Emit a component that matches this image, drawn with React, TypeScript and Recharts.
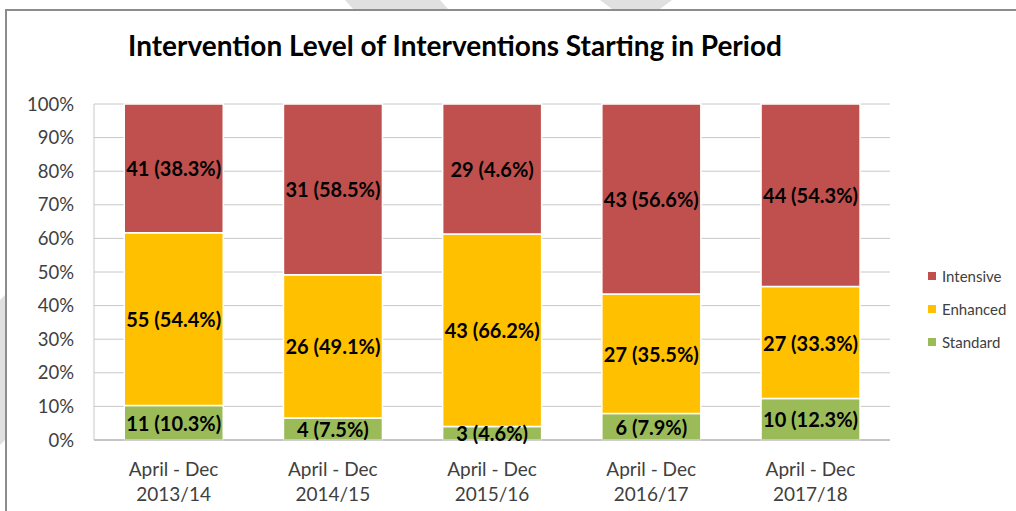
import { BarChart, Bar, XAxis, YAxis, CartesianGrid, LabelList } from 'recharts';

const periods = ['April - Dec\n2013/14', 'April - Dec\n2014/15', 'April - Dec\n2015/16', 'April - Dec\n2016/17', 'April - Dec\n2017/18'];

const standard = [11, 4, 3, 6, 10];
const enhanced = [55, 26, 43, 27, 27];
const intensive = [41, 31, 29, 43, 44];

const standardLabels = ['11 (10.3%)', '4 (7.5%)', '3 (4.6%)', '6 (7.9%)', '10 (12.3%)'];
const enhancedLabels = ['55 (54.4%)', '26 (49.1%)', '43 (66.2%)', '27 (35.5%)', '27 (33.3%)'];
const intensiveLabels = ['41 (38.3%)', '31 (58.5%)', '29 (4.6%)', '43 (56.6%)', '44 (54.3%)'];

const yTicks = [0, 0.1, 0.2, 0.3, 0.4, 0.5, 0.6, 0.7, 0.8, 0.9, 1];

const data = periods.map((period, i) => ({
  period,
  standard: standard[i],
  enhanced: enhanced[i],
  intensive: intensive[i],
  standardLabel: standardLabels[i],
  enhancedLabel: enhancedLabels[i],
  intensiveLabel: intensiveLabels[i],
}));

const legendItems = [
  { name: 'Intensive', color: '#C0504D' },
  { name: 'Enhanced', color: '#FFC000' },
  { name: 'Standard', color: '#9BBB59' },
];

const FONT = 'Lato, "Open Sans", sans-serif';

const PeriodTick = ({ x, y, payload }: any) => {
  const lines = String(payload.value).split('\n');
  return (
    <text x={x} y={y} textAnchor="middle" fill="#404040" fontSize={19} fontFamily={FONT}>
      {lines.map((line, i) => (
        <tspan key={i} x={x} dy={i === 0 ? 28 : 25}>{line}</tspan>
      ))}
    </text>
  );
};

// centred label without wrapping
const SegmentLabel = ({ x, y, width, height, value }: any) => (
  <text
    x={Number(x) + Number(width) / 2}
    y={Number(y) + Number(height) / 2}
    textAnchor="middle"
    dominantBaseline="central"
    fill="#000"
    fontSize={20}
    fontWeight={700}
    fontFamily={FONT}
  >
    {value}
  </text>
);

export default function App() {
  return (
    <div style={{ position: 'absolute', left: 0, top: 0, width: 1016, height: 511, overflow: 'hidden', background: '#fff' }}>
      {/* faint watermark pieces showing outside the chart frame */}
      <svg width={1016} height={511} style={{ position: 'absolute', left: 0, top: 0 }}>
        <polygon points="345,0 440,0 448,9 353,9" fill="#e0e0e0" />
        <polygon points="600,0 672,0 660,9 612,9" fill="#e0e0e0" />
        <polygon points="0,300 5,295 5,440 0,445" fill="#e0e0e0" />
      </svg>
      <div style={{ position: 'absolute', left: 5, top: 9, width: 1030, height: 530, border: '2px solid #8c8c8c', boxSizing: 'border-box' }} />
      <div style={{ position: 'absolute', left: 0, top: 28, width: 910, textAlign: 'center', fontFamily: FONT, fontWeight: 700, fontSize: 28, color: '#000' }}>
        Intervention Level of Interventions Starting in Period
      </div>
      <div style={{ position: 'absolute', left: 0, top: 0 }}>
        <BarChart
          width={1016}
          height={511}
          data={data}
          stackOffset="expand"
          barCategoryGap="19%"
          margin={{ top: 104, right: 126, left: 34, bottom: 11 }}
        >
          <CartesianGrid vertical={false} stroke="#c8c8c8" />
          <XAxis
            dataKey="period"
            tick={<PeriodTick />}
            tickLine={false}
            axisLine={{ stroke: '#a6a6a6' }}
            height={60}
            interval={0}
          />
          <YAxis
            width={60}
            domain={[0, 1]}
            ticks={yTicks}
            tickFormatter={(v) => `${Math.round(Number(v) * 100)}%`}
            tick={{ fill: '#404040', fontSize: 18.5, fontFamily: FONT, dx: -12 }}
            tickLine={false}
            axisLine={{ stroke: '#c8c8c8' }}
          />
          <Bar dataKey="standard" stackId="a" fill="#9BBB59" stroke="#fff" strokeWidth={1.5} isAnimationActive={false}>
            <LabelList dataKey="standardLabel" content={<SegmentLabel />} />
          </Bar>
          <Bar dataKey="enhanced" stackId="a" fill="#FFC000" stroke="#fff" strokeWidth={1.5} isAnimationActive={false}>
            <LabelList dataKey="enhancedLabel" content={<SegmentLabel />} />
          </Bar>
          <Bar dataKey="intensive" stackId="a" fill="#C0504D" stroke="#fff" strokeWidth={1.5} isAnimationActive={false}>
            <LabelList dataKey="intensiveLabel" content={<SegmentLabel />} />
          </Bar>
        </BarChart>
      </div>
      <div style={{ position: 'absolute', left: 928, top: 259, fontFamily: FONT, fontSize: 15, color: '#404040' }}>
        {legendItems.map((item) => (
          <div key={item.name} style={{ display: 'flex', alignItems: 'center', height: 33 }}>
            <span style={{ display: 'inline-block', width: 8, height: 8, background: item.color, marginRight: 6 }} />
            {item.name}
          </div>
        ))}
      </div>
    </div>
  );
}
